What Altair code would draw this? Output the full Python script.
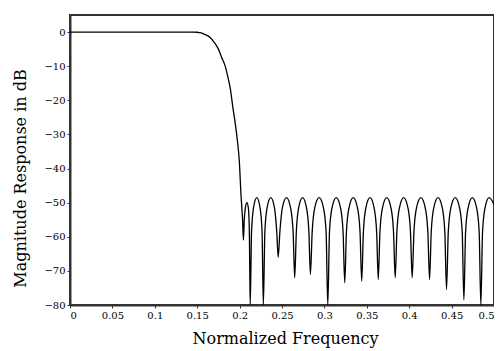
import altair as alt
import pandas as pd

# Normalized frequency (cycles/sample)
FREQ = [
    0.0, 0.05, 0.10, 0.145, 0.150, 0.153, 0.158, 0.165, 0.170, 0.175,
    0.179, 0.183, 0.186, 0.189, 0.192, 0.195, 0.197, 0.1997, 0.2017, 0.2035,
    0.2045, 0.2055, 0.2068, 0.2085, 0.2103, 0.2115, 0.2125,
    0.2141, 0.2164, 0.2203, 0.2241, 0.2265, 0.2280,
    0.2298, 0.2324, 0.2368, 0.2411, 0.2438, 0.2455,
    0.2475, 0.2504, 0.2553, 0.2601, 0.2631, 0.2650,
    0.2669, 0.2696, 0.2743, 0.2789, 0.2817, 0.2835,
    0.2856, 0.2886, 0.2938, 0.2989, 0.3020, 0.3040,
    0.3060, 0.3090, 0.3140, 0.3190, 0.3220, 0.3240,
    0.3260, 0.3290, 0.3340, 0.3390, 0.3420, 0.3440,
    0.3460, 0.3489, 0.3538, 0.3586, 0.3616, 0.3635,
    0.3655, 0.3685, 0.3735, 0.3785, 0.3815, 0.3835,
    0.3855, 0.3885, 0.3935, 0.3985, 0.4015, 0.4035,
    0.4056, 0.4086, 0.4138, 0.4189, 0.4220, 0.4240,
    0.4260, 0.4290, 0.4340, 0.4390, 0.4420, 0.4440,
    0.4461, 0.4491, 0.4543, 0.4594, 0.4625, 0.4645,
    0.4665, 0.4695, 0.4745, 0.4795, 0.4825, 0.4845,
    0.4865, 0.4894, 0.4942, 0.5000,
]

# Magnitude response in dB
MAG_DB = [
    0.0, 0.0, 0.0, 0.0, -0.05, -0.2, -0.6, -1.5, -3.0, -5.0,
    -7.5, -10.0, -13.0, -16.5, -22.0, -27.0, -31.0, -38.0, -48.0, -55.0,
    -61.0, -55.0, -51.5, -50.0, -51.5, -58.5, -80.0,
    -58.5, -51.5, -48.5, -51.5, -58.5, -80.0,
    -58.5, -51.5, -48.5, -51.5, -58.5, -66.0,
    -58.5, -51.5, -48.5, -51.5, -58.5, -72.0,
    -58.5, -51.5, -48.5, -51.5, -58.5, -71.0,
    -58.5, -51.5, -48.5, -51.5, -58.5, -80.0,
    -58.5, -51.5, -48.5, -51.5, -58.5, -73.5,
    -58.5, -51.5, -48.5, -51.5, -58.5, -73.0,
    -58.5, -51.5, -48.5, -51.5, -58.5, -72.5,
    -58.5, -51.5, -48.5, -51.5, -58.5, -72.0,
    -58.5, -51.5, -48.5, -51.5, -58.5, -72.0,
    -58.5, -51.5, -48.5, -51.5, -58.5, -72.5,
    -58.5, -51.5, -48.5, -51.5, -58.5, -75.5,
    -58.5, -51.5, -48.5, -51.5, -58.5, -78.5,
    -58.5, -51.5, -48.5, -51.5, -58.5, -80.0,
    -58.5, -51.5, -48.5, -50.5,
]

X_TICKS = [0, 0.05, 0.1, 0.15, 0.2, 0.25, 0.3, 0.35, 0.4, 0.45, 0.5]
Y_TICKS = [0, -10, -20, -30, -40, -50, -60, -70, -80]

df = pd.DataFrame({"f": FREQ, "m": MAG_DB})

FONT = "DejaVu Serif"

chart = (
    alt.Chart(df)
    .mark_line(color="black", strokeWidth=1.3, clip=True, interpolate="monotone")
    .encode(
        x=alt.X(
            "f:Q",
            scale=alt.Scale(domain=[0, 0.5], nice=False, zero=False),
            axis=alt.Axis(
                values=X_TICKS,
                labelExpr="format(datum.value, '.2~f')",
                title="Normalized Frequency",
                titleX=215,
                titleY=38,
                titleBaseline="alphabetic",
                titleAlign="center",
                titleAnchor="middle",
            ),
        ),
        y=alt.Y(
            "m:Q",
            scale=alt.Scale(domain=[-80, 5], nice=False, zero=False),
            axis=alt.Axis(
                values=Y_TICKS,
                format="d",
                title="Magnitude Response in dB",
                titleX=-50,
                titleY=163,
                titleAngle=-90,
                titleBaseline="middle",
                titleAlign="center",
                titleAnchor="middle",
            ),
        ),
    )
    .properties(
        width=424,
        height=290,
        autosize=alt.AutoSizeParams(type="none"),
        padding={"left": 62, "top": 7, "right": 0, "bottom": 44},
    )
    .configure_view(stroke="#333333", strokeWidth=2)
    .configure_axis(
        grid=False,
        domainColor="#333333",
        domainWidth=2,
        tickColor="#333333",
        tickSize=3,
        tickWidth=1,
        labelFont=FONT,
        labelFontSize=10,
        labelColor="black",
        labelPadding=2,
        titleFont=FONT,
        titleFontSize=16,
        titleFontWeight="normal",
        titleColor="black",
    )
)

chart.save("out.html", embed_options={"renderer": "svg", "actions": False})
